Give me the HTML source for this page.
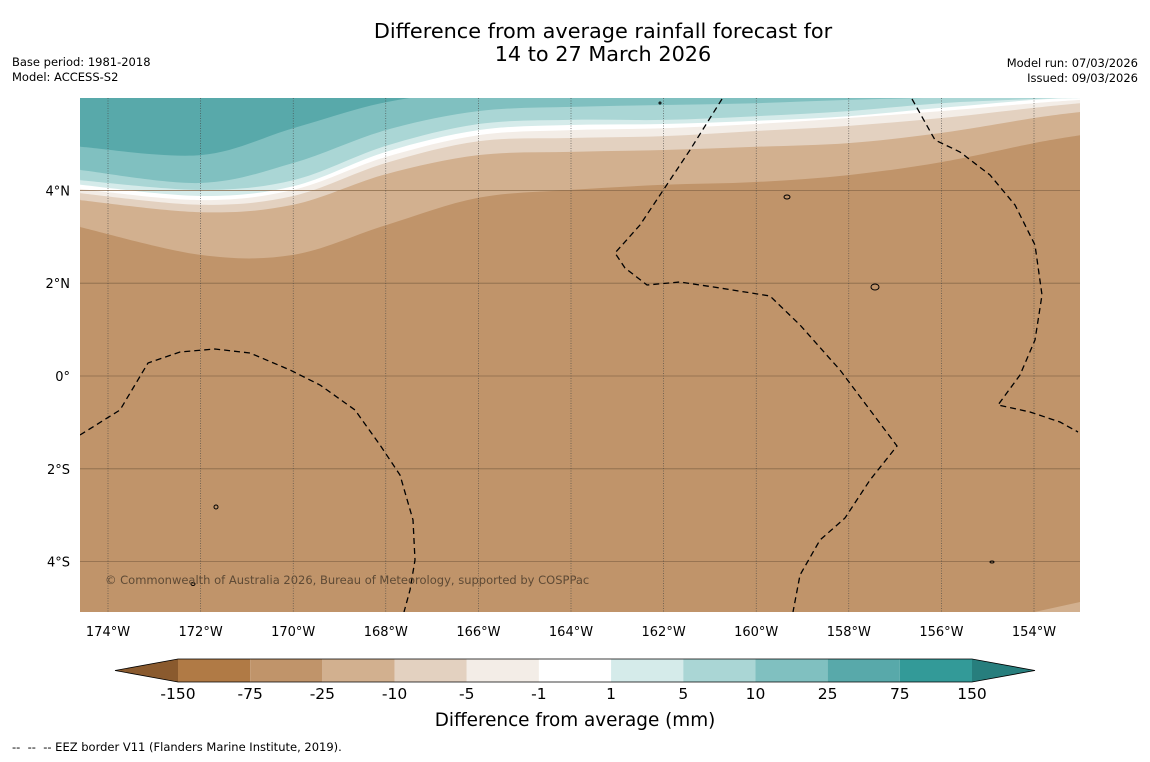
<!DOCTYPE html>
<html><head><meta charset="utf-8"><style>
body{margin:0;background:#fff;width:1150px;height:758px;overflow:hidden;font-family:"DejaVu Sans",sans-serif}
</style></head><body>
<svg id="chart" width="1150" height="758" xmlns="http://www.w3.org/2000/svg" font-family="DejaVu Sans, sans-serif">
<text x="603" y="38" font-size="20.8" text-anchor="middle">Difference from average rainfall forecast for</text>
<text x="603" y="61" font-size="20.8" text-anchor="middle">14 to 27 March 2026</text>
<text x="12" y="66" font-size="11.5">Base period: 1981-2018</text>
<text x="12" y="81" font-size="11.5">Model: ACCESS-S2</text>
<text x="1138" y="67" font-size="11.5" text-anchor="end">Model run: 07/03/2026</text>
<text x="1138" y="82" font-size="11.5" text-anchor="end">Issued: 09/03/2026</text>
<defs><clipPath id="pc"><rect x="80" y="98" width="1000" height="514"/></clipPath></defs>
<g id="plot" clip-path="url(#pc)"></g>
<g id="axes"></g>
<g id="cbar"></g>
<text x="575" y="726" font-size="18.4" text-anchor="middle">Difference from average (mm)</text>
<text x="12" y="751" font-size="11.5" style="white-space:pre">--  --  -- EEZ border V11 (Flanders Marine Institute, 2019).</text>
</svg>
<script>
const NS="http://www.w3.org/2000/svg";
const lonTicks=[-174,-172,-170,-168,-166,-164,-162,-160,-158,-156,-154];
const latTicks=[4,2,0,-2,-4];
const levels=["-150","-75","-25","-10","-5","-1","1","5","10","25","75","150"];
const bandColors=["#b07a45","#c0946a","#d2b08f","#e3d1c0","#f3ede7","#ffffff","#d5ebea","#aad6d5","#80c0c0","#58a9aa","#339a98"];
const sampleLons=[-174.6,-172,-170,-168,-166,-164,-162,-160,-158,-156,-154,-153];
const cMinus25=[3.21,2.61,2.61,3.25,3.84,4.01,4.12,4.18,4.33,4.61,5.02,5.19];
const cMinus10=[3.79,3.53,3.69,4.35,4.76,4.83,4.87,4.94,5.02,5.24,5.56,5.69];
const cMinus5=[3.94,3.69,3.88,4.59,5.06,5.13,5.17,5.28,5.39,5.56,5.78,5.88];
const cMinus1=[4.03,3.79,4.01,4.72,5.19,5.30,5.34,5.43,5.56,5.71,5.88,5.95];
const cPlus1=[4.12,3.88,4.09,4.83,5.30,5.41,5.43,5.50,5.60,5.78,5.95,5.99];
const cPlus5=[4.22,4.01,4.22,4.96,5.43,5.52,5.52,5.60,5.71,5.88,5.97,6.01];
const cPlus10=[4.44,4.16,4.59,5.30,5.71,5.80,5.84,5.88,5.95,6.0,6.04,6.06];
const cPlus25=[4.94,4.76,5.34,5.90,6.15,6.2,6.2,6.2,6.2,6.2,6.2,6.2];
const X=lon=>108+(lon+174)*46.3, Y=lat=>376-lat*46.4;
const plot=document.getElementById('plot'),axes=document.getElementById('axes'),cbar=document.getElementById('cbar');
function mk(tag,attrs,parent){const e=document.createElementNS(NS,tag);for(const k in attrs)e.setAttribute(k,attrs[k]);parent.appendChild(e);return e;}
function smooth(pts){let d='M'+pts[0][0].toFixed(1)+','+pts[0][1].toFixed(1);
 for(let i=0;i<pts.length-1;i++){const p0=pts[Math.max(0,i-1)],p1=pts[i],p2=pts[i+1],p3=pts[Math.min(pts.length-1,i+2)];
 const c1=[p1[0]+(p2[0]-p0[0])/6,p1[1]+(p2[1]-p0[1])/6],c2=[p2[0]-(p3[0]-p1[0])/6,p2[1]-(p3[1]-p1[1])/6];
 d+=` C${c1[0].toFixed(1)},${c1[1].toFixed(1)} ${c2[0].toFixed(1)},${c2[1].toFixed(1)} ${p2[0].toFixed(1)},${p2[1].toFixed(1)}`;}
 return d;}
const bg=mk('rect',{x:80,y:98,width:1000,height:514,fill:bandColors[1]},plot);


const contours=[[cMinus25,2],[cMinus10,3],[cMinus5,4],[cMinus1,5],[cPlus1,6],[cPlus5,7],[cPlus10,8],[cPlus25,9]];
contours.forEach(([c,ci])=>{
 const pts=sampleLons.map((l,i)=>[X(l),Y(c[i])]);
 const d=smooth(pts)+' L1090,80 L70,80 Z';
 const p=mk('path',{d:d,fill:bandColors[ci]},plot);
 
 
});
const corner=mk('path',{d:'M1030,613 L1080,602 L1080,613 Z',fill:bandColors[2]},plot);


latTicks.forEach(l=>{const g=mk('line',{x1:80,x2:1080,y1:Y(l),y2:Y(l),stroke:'#8a6a4a','stroke-width':0.8},plot);

});
lonTicks.forEach(l=>{const g=mk('line',{x1:X(l),x2:X(l),y1:98,y2:612,stroke:'#444','stroke-width':0.6,'stroke-dasharray':'1,1.5'},plot);

});
const eez=["M80,435 L120,410 L148,363 L180,352 L215,349 L250,353 L290,370 L320,385 L355,410 L380,445 L400,475 L413,520 L415,560 L410,590 L404,612",
"M722,99 L690,150 L660,195 L640,225 L615,253 L625,268 L647,285 L680,282 L720,288 L770,296 L800,325 L840,370 L870,410 L897,446 L870,480 L845,518 L820,540 L800,575 L793,612",
"M912,99 L935,140 L960,152 L990,175 L1015,205 L1035,245 L1042,295 L1035,340 L1020,375 L998,405 L1030,412 L1060,422 L1078,432"];
eez.forEach(d=>{const e=mk('path',{d:d,fill:'none',stroke:'#000','stroke-width':1.3,'stroke-dasharray':'6,4'},plot);

});
[[787,197,3,2],[875,287,4,3],[216,507,2,2],[193,584,2,1.5],[660,103,1,1],[992,562,2,1]].forEach(a=>{const e=mk('ellipse',{cx:a[0],cy:a[1],rx:a[2],ry:a[3],fill:'none',stroke:'#000','stroke-width':1},plot);

});
const cp=mk('text',{x:105,y:584,'font-size':11.5,fill:'#5e4a35'},plot);cp.textContent='© Commonwealth of Australia 2026, Bureau of Meteorology, supported by COSPPac';


lonTicks.forEach(l=>{const t=mk('text',{x:X(l),y:636,'font-size':13,'text-anchor':'middle'},axes);t.textContent=Math.abs(l)+'°W';

});
latTicks.forEach(l=>{const t=mk('text',{x:70,y:Y(l)+5,'font-size':13,'text-anchor':'end'},axes);t.textContent=l===0?'0°':Math.abs(l)+'°'+(l>0?'N':'S');

});
const cb0=178,cw=(972-178)/11,cy=659,ch=23;
bandColors.forEach((c,i)=>{const r=mk('rect',{x:cb0+i*cw,y:cy,width:cw,height:ch,fill:c},cbar);

});
const lt=mk('path',{d:`M${cb0},${cy} L115,${cy+ch/2} L${cb0},${cy+ch} Z`,fill:'#8a5a2e'},cbar);


const rt=mk('path',{d:`M972,${cy} L1035,${cy+ch/2} L972,${cy+ch} Z`,fill:'#277e7d'},cbar);


const ol=mk('path',{d:`M115,${cy+ch/2} L${cb0},${cy} L972,${cy} L1035,${cy+ch/2} L972,${cy+ch} L${cb0},${cy+ch} Z`,fill:'none',stroke:'#000','stroke-width':0.8},cbar);


levels.forEach((l,i)=>{const t=mk('text',{x:cb0+i*cw,y:699,'font-size':15.5,'text-anchor':'middle'},cbar);t.textContent=l;

});
</script>
</body></html>
